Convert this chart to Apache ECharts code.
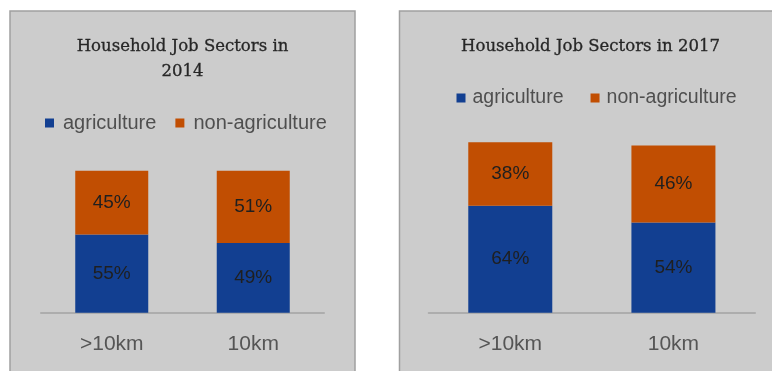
<!DOCTYPE html>
<html>
<head>
<meta charset="utf-8">
<script src="https://cdn.jsdelivr.net/npm/echarts@6/dist/echarts.min.js"></script>
<style>
html,body{margin:0;padding:0;background:#fff;}
#chart{width:772px;height:371px;}
</style>
</head>
<body>
<div id="chart"></div>
<script>
const categories = ['>10km', '10km'];
const seriesNames = ['agriculture', 'non-agriculture'];
const agri2014 = [55, 49];
const nonAgri2014 = [45, 51];
const agri2017 = [64, 54];
const nonAgri2017 = [38, 46];
const titleLeft = ['Household Job Sectors in', '2014'];
const titleRight = 'Household Job Sectors in 2017';

const BLUE = '#123f91';
const ORANGE = '#c14e02';
const chart = echarts.init(document.getElementById('chart'));

const labelStyle = {
  show: true, position: 'inside', formatter: '{c}%',
  color: '#1f1f1f', fontSize: 19, fontFamily: 'Liberation Sans'
};
const xAxisBase = {
  type: 'category', data: categories,
  axisLine: {lineStyle: {color: '#adadad', width: 2}},
  axisTick: {show: false},
  axisLabel: {color: '#555555', fontSize: 21, fontFamily: 'Liberation Sans', margin: 21}
};
const yAxisBase = {type: 'value', min: 0, show: false, splitLine: {show: false}};

function bar(name, data, idx, stack, width) {
  return {
    name: name, type: 'bar', stack: stack, data: data,
    xAxisIndex: idx, yAxisIndex: idx, barWidth: width,
    itemStyle: {color: name === seriesNames[0] ? BLUE : ORANGE},
    label: labelStyle, emphasis: {disabled: true}
  };
}

const titleStyle = {fill: '#262626', font: '16.5px "DejaVu Serif"', textAlign: 'center', textVerticalAlign: 'middle',
  stroke: '#262626', lineWidth: 0.3};

chart.setOption({
  animation: false,
  backgroundColor: '#ffffff',
  graphic: [
    {type: 'rect', shape: {x: 10, y: 11, width: 345, height: 380}, style: {fill: '#cccccc', stroke: '#a0a0a0', lineWidth: 1.5}, z: -10},
    {type: 'rect', shape: {x: 399.5, y: 11, width: 400, height: 380}, style: {fill: '#cccccc', stroke: '#a0a0a0', lineWidth: 1.5}, z: -10},
    {type: 'text', x: 182.5, y: 46.7, style: Object.assign({text: titleLeft[0]}, titleStyle)},
    {type: 'text', x: 182.5, y: 71.7, style: Object.assign({text: titleLeft[1]}, titleStyle)},
    {type: 'text', x: 590.5, y: 46.7, style: Object.assign({text: titleRight}, titleStyle)}
  ],
  legend: [
    {data: seriesNames, left: 45, top: 113, padding: 0, itemWidth: 9, itemHeight: 9, itemGap: 19, icon: 'rect',
     selectedMode: false,
     textStyle: {color: '#4f4f4f', fontSize: 20, fontFamily: 'Liberation Sans', padding: [0, 0, 0, 4], lineHeight: 20}},
    {data: seriesNames, left: 456.5, top: 88, padding: 0, itemWidth: 9, itemHeight: 9, itemGap: 27, icon: 'rect',
     selectedMode: false,
     textStyle: {color: '#4f4f4f', fontSize: 19.5, fontFamily: 'Liberation Sans', padding: [0, 0, 0, 2], lineHeight: 20}}
  ],
  grid: [
    {left: 41, width: 283, top: 170.7, bottom: 58.3},
    {left: 428.7, width: 326.3, top: 128.8, bottom: 58.3}
  ],
  xAxis: [
    Object.assign({gridIndex: 0}, xAxisBase),
    Object.assign({gridIndex: 1}, xAxisBase)
  ],
  yAxis: [
    Object.assign({gridIndex: 0, max: 100}, yAxisBase),
    Object.assign({gridIndex: 1, max: 110}, yAxisBase)
  ],
  series: [
    bar(seriesNames[0], agri2014, 0, 's2014', 73),
    bar(seriesNames[1], nonAgri2014, 0, 's2014', 73),
    bar(seriesNames[0], agri2017, 1, 's2017', 84),
    bar(seriesNames[1], nonAgri2017, 1, 's2017', 84)
  ]
});
</script>
</body>
</html>
